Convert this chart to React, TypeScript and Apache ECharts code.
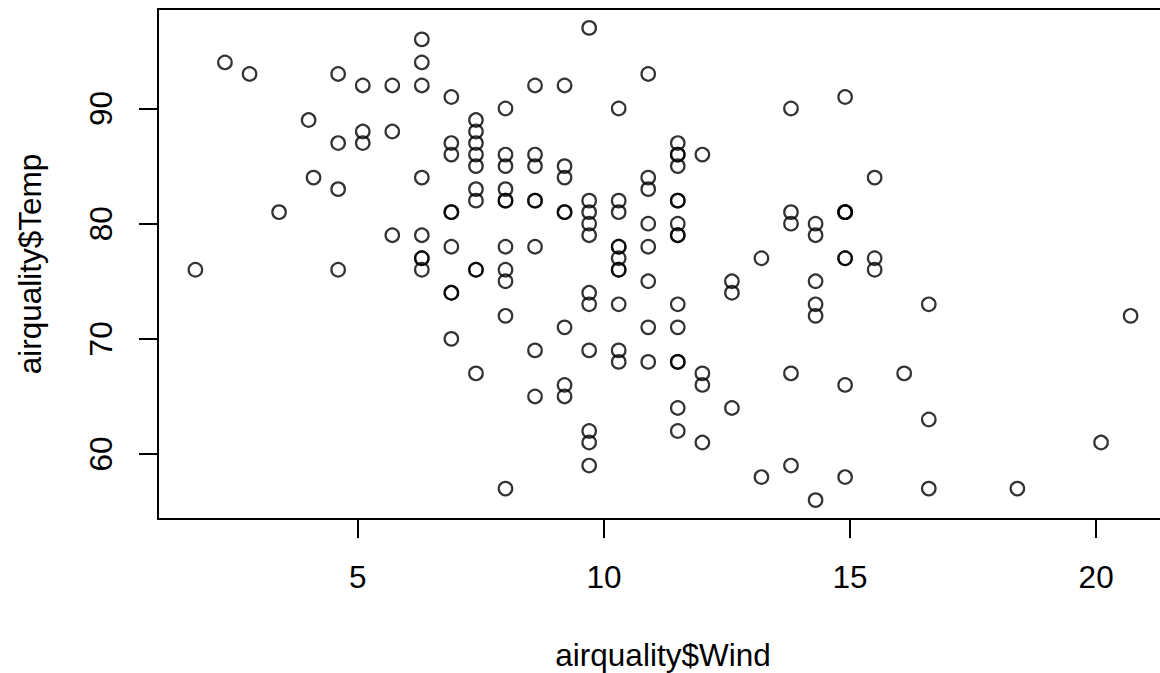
import React, { useEffect, useRef } from "react";
import * as echarts from "echarts";

// airquality dataset (R): Wind (mph) and Temp (°F), 153 observations
const wind: number[] = [
  7.4, 8.0, 12.6, 11.5, 14.3, 14.9, 8.6, 13.8, 20.1, 8.6,
  6.9, 9.7, 9.2, 10.9, 13.2, 11.5, 12.0, 18.4, 11.5, 9.7,
  9.7, 16.6, 9.7, 12.0, 16.6, 14.9, 8.0, 12.0, 14.9, 5.7,
  7.4, 8.6, 9.7, 16.1, 9.2, 8.6, 14.3, 9.7, 6.9, 13.8,
  11.5, 10.9, 9.2, 8.0, 13.8, 11.5, 14.9, 20.7, 9.2, 11.5,
  10.3, 6.3, 1.7, 4.6, 6.3, 8.0, 8.0, 10.3, 11.5, 14.9,
  8.0, 4.1, 9.2, 9.2, 10.9, 4.6, 10.9, 5.1, 6.3, 5.7,
  7.4, 8.6, 14.3, 14.9, 14.9, 14.3, 6.9, 10.3, 6.3, 5.1,
  11.5, 6.9, 9.7, 11.5, 8.6, 8.0, 8.6, 12.0, 7.4, 7.4,
  7.4, 9.2, 6.9, 13.8, 7.4, 6.9, 7.4, 4.6, 4.0, 10.3,
  8.0, 8.6, 11.5, 11.5, 11.5, 9.7, 11.5, 10.3, 6.3, 7.4,
  10.9, 10.3, 15.5, 14.3, 12.6, 9.7, 3.4, 8.0, 5.7, 9.7,
  2.3, 6.3, 6.3, 6.9, 5.1, 2.8, 4.6, 7.4, 15.5, 10.9,
  10.3, 10.9, 9.7, 14.9, 15.5, 6.3, 10.9, 11.5, 6.9, 13.8,
  10.3, 10.3, 8.0, 12.6, 9.2, 10.3, 10.3, 16.6, 6.9, 13.2,
  14.3, 8.0, 11.5,
];

const temp: number[] = [
  67, 72, 74, 62, 56, 66, 65, 59, 61, 69,
  74, 69, 66, 68, 58, 64, 66, 57, 68, 62,
  59, 73, 61, 61, 57, 58, 57, 67, 81, 79,
  76, 78, 74, 67, 84, 85, 79, 82, 87, 90,
  87, 93, 92, 82, 80, 79, 77, 72, 65, 73,
  76, 77, 76, 76, 76, 75, 78, 73, 80, 77,
  83, 84, 85, 81, 84, 83, 83, 88, 92, 92,
  89, 82, 73, 81, 91, 80, 81, 82, 84, 87,
  85, 74, 81, 82, 86, 85, 82, 86, 88, 86,
  83, 81, 81, 81, 82, 86, 85, 87, 89, 90,
  90, 92, 86, 86, 82, 80, 79, 77, 79, 76,
  78, 78, 77, 72, 75, 79, 81, 86, 88, 97,
  94, 96, 94, 91, 92, 93, 93, 87, 84, 80,
  78, 75, 73, 81, 76, 77, 71, 71, 78, 67,
  76, 68, 82, 64, 71, 81, 69, 63, 70, 77,
  75, 76, 68,
];

const xTicks: number[] = [5, 10, 15, 20];
const yTicks: number[] = [60, 70, 80, 90];
const xTitle = "airquality$Wind";
const yTitle = "airquality$Temp";

// R's default 4% axis extension
const pad = (lo: number, hi: number): [number, number] => {
  const d = (hi - lo) * 0.04;
  return [lo - d, hi + d];
};

const FONT = "'Liberation Sans', Arial, Helvetica, sans-serif";
const FS = 31.5;

export default function App() {
  const ref = useRef<HTMLDivElement>(null);

  useEffect(() => {
    if (!ref.current) return;
    const chart = echarts.init(ref.current, undefined, { renderer: "svg" });
    const [xMin, xMax] = pad(Math.min(...wind), Math.max(...wind));
    const [yMin, yMax] = pad(Math.min(...temp), Math.max(...temp));
    const data = wind.map((w, i) => [w, temp[i]]);

    chart.setOption({
      animation: false,
      backgroundColor: "#ffffff",
      grid: {
        show: true,
        left: 158,
        top: 9,
        width: 1010,
        height: 510,
        outerBoundsMode: "none",
        containLabel: false,
        borderColor: "#000",
        borderWidth: 2,
        backgroundColor: "transparent",
      },
      xAxis: {
        type: "value",
        min: xMin,
        max: xMax,
        name: xTitle,
        nameLocation: "middle",
        nameGap: 136,
        nameTextStyle: {
          fontFamily: FONT,
          fontSize: FS,
          color: "#000",
          verticalAlign: "middle",
          align: "center",
        },
        axisLine: { show: false },
        splitLine: { show: false },
        axisTick: {
          show: true,
          inside: false,
          length: 19,
          lineStyle: { color: "#000", width: 2 },
          customValues: xTicks,
        },
        axisLabel: {
          show: true,
          customValues: xTicks,
          margin: 42,
          fontFamily: FONT,
          fontSize: FS,
          color: "#000",
        },
      },
      yAxis: {
        type: "value",
        min: yMin,
        max: yMax,
        name: yTitle,
        nameLocation: "middle",
        nameRotate: 90,
        nameGap: 128,
        nameTextStyle: {
          fontFamily: FONT,
          fontSize: FS,
          color: "#000",
          verticalAlign: "middle",
          align: "center",
        },
        axisLine: { show: false },
        splitLine: { show: false },
        axisTick: {
          show: true,
          inside: false,
          length: 19,
          lineStyle: { color: "#000", width: 2 },
          customValues: yTicks,
        },
        axisLabel: {
          show: true,
          customValues: yTicks,
          rotate: 90,
          margin: 57,
          align: "center",
          verticalAlign: "middle",
          fontFamily: FONT,
          fontSize: FS,
          color: "#000",
        },
      },
      series: [
        {
          type: "scatter",
          data,
          symbol: "circle",
          symbolSize: 13.5,
          itemStyle: {
            color: "transparent",
            borderColor: "#000",
            borderWidth: 2.2,
          },
          emphasis: { disabled: true },
        },
      ],
    });

    return () => {
      chart.dispose();
    };
  }, []);

  return (
    <div
      ref={ref}
      style={{ position: "absolute", left: 0, top: 0, width: 1160, height: 673 }}
    />
  );
}
